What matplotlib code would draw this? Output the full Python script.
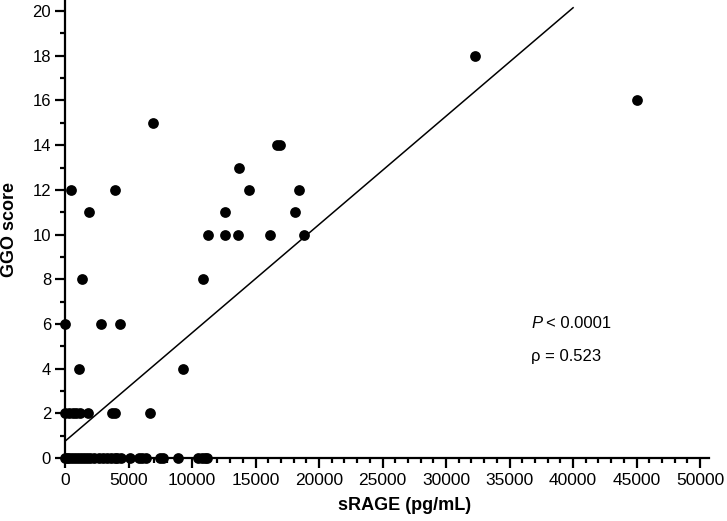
import matplotlib
matplotlib.use("Agg")
import matplotlib.pyplot as plt
import numpy as np
from matplotlib.ticker import MultipleLocator

plt.rcParams['font.family'] = ['Liberation Sans', 'DejaVu Sans']

# sRAGE (pg/mL) and GGO score
srage = [
    # GGO = 0
    0, 150, 350, 550, 800, 1000, 1250, 1500, 1750, 2000, 2300, 2700, 3000, 3300,
    3600, 3900, 4100, 4400, 5100, 5800, 6100, 6400, 7500, 7700, 8900,
    10500, 10800, 11000, 11200,
    # GGO = 2
    0, 300, 600, 900, 1150, 1850, 3700, 3950, 6700,
    # GGO = 4
    1100, 9300,
    # GGO = 6
    0, 2850, 4300,
    # GGO = 8
    1300, 10850,
    # GGO = 10
    11250, 12600, 13650, 16100, 18800,
    # GGO = 11
    1900, 12600, 18100,
    # GGO = 12
    450, 3900, 14450, 18400,
    # GGO = 13
    13700,
    # GGO = 14
    16700, 16950,
    # GGO = 15
    6900,
    # GGO = 16
    45000,
    # GGO = 18
    32300,
]
ggo = ([0] * 29 + [2] * 9 + [4] * 2 + [6] * 3 + [8] * 2 + [10] * 5 + [11] * 3
       + [12] * 4 + [13] + [14] * 2 + [15] + [16] + [18])

# regression line
line_x = [0, 40000]
intercept = 0.75
slope = 0.000485

p_text = "< 0.0001"
rho_text = "\u03c1 = 0.523"

fig = plt.figure(figsize=(7.27, 5.21), dpi=100)
ax = fig.add_axes([65/727, 1 - 458/521, (709-65)/727, 458/521 - 0.002])

ax.scatter(srage, ggo, s=60, color='black', zorder=3, clip_on=False, linewidths=0)
lx = np.array(line_x, dtype=float)
ax.plot(lx, intercept + slope * lx, color='black', lw=1.1, zorder=2)

ax.set_xlim(0, 50700)
ax.set_ylim(0, 20.45)
ax.xaxis.set_major_locator(MultipleLocator(5000))
ax.xaxis.set_minor_locator(MultipleLocator(1000))
ax.yaxis.set_major_locator(MultipleLocator(2))
ax.yaxis.set_minor_locator(MultipleLocator(1))

for s in ['top', 'right']:
    ax.spines[s].set_visible(False)
for s in ['left', 'bottom']:
    ax.spines[s].set_linewidth(1.6)

ax.tick_params(which='major', length=7, width=1.6, labelsize=12, pad=3)
ax.tick_params(which='minor', length=3.8, width=1.6)
ax.tick_params(axis='x', which='major', pad=4, labelsize=12.5)

ax.set_xlabel('sRAGE (pg/mL)', fontsize=13, fontweight='bold')
ax.set_ylabel('GGO score', fontsize=13, fontweight='bold')
ax.xaxis.set_label_coords((405-65)/644, -0.085)
ax.yaxis.set_label_coords(-0.073, 0.5)

ax.text(36700, 6.04, 'P', fontsize=12, style='italic', va='center', ha='left')
ax.text(37850, 6.04, p_text, fontsize=12, va='center', ha='left')
ax.text(36700, 4.55, rho_text, fontsize=12, va='center', ha='left')

fig.savefig('out.png', dpi=100)
